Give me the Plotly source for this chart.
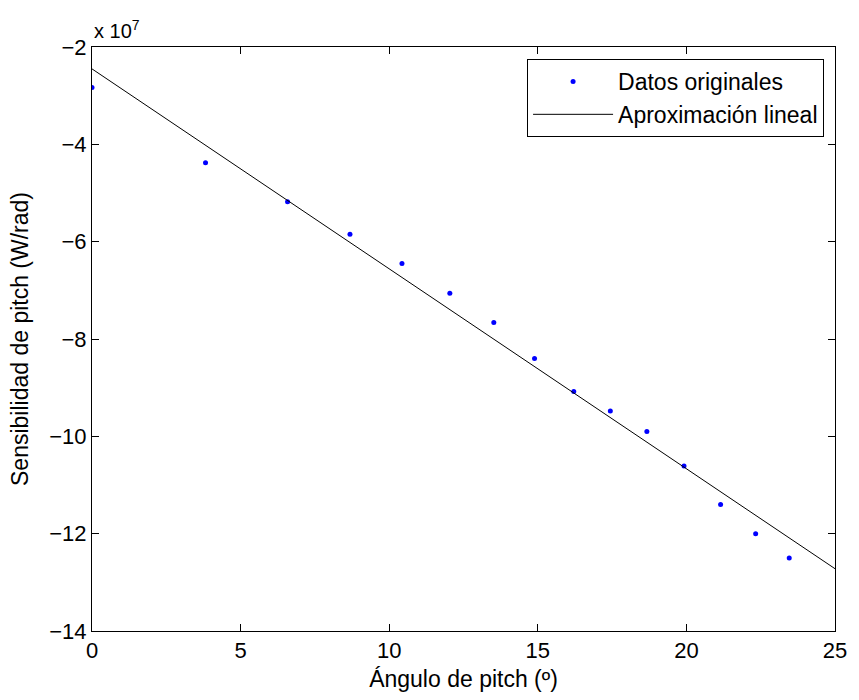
import plotly.graph_objects as go

# Datos (y en unidades de 1e7 W/rad)
angulo = [0.0, 3.82, 6.58, 8.68, 10.43, 12.04, 13.52, 14.89, 16.21, 17.44,
          18.67, 19.92, 21.15, 22.33, 23.46]
sensibilidad = [-2.83, -4.38, -5.18, -5.85, -6.45, -7.06, -7.66, -8.40, -9.08,
                -9.48, -9.90, -10.61, -11.40, -12.00, -12.50]

# Recta de aproximacion (extremos leidos)
ajuste_x = [0, 25]
ajuste_y = [-2.45, -12.72]

x_ticks = [0, 5, 10, 15, 20, 25]
y_ticks = [-2, -4, -6, -8, -10, -12, -14]

FONT = "Liberation Sans, Arial, Helvetica, sans-serif"
FS_TICK = 22
FS_TEXT = 23

fig = go.Figure()
fig.add_trace(go.Scatter(
    x=angulo, y=sensibilidad, mode="markers",
    marker=dict(color="#0000ff", size=5),
    name="Datos originales",
))
fig.add_trace(go.Scatter(
    x=ajuste_x, y=ajuste_y, mode="lines",
    line=dict(color="black", width=1),
    name="Aproximación lineal",
))

axis_common = dict(
    showline=True, linecolor="black", linewidth=1, mirror="ticks",
    ticks="inside", ticklen=7, tickcolor="black",
    showgrid=False, zeroline=False,
    tickfont=dict(size=FS_TICK, color="black"),
)

fig.update_xaxes(range=[0, 25], tickvals=x_ticks,
                 ticktext=[str(v) for v in x_ticks],
                 title=dict(text="Ángulo de pitch (º)", font=dict(size=FS_TEXT, color="black"), standoff=8),
                 **axis_common)
fig.update_yaxes(range=[-14, -2], tickvals=y_ticks,
                 ticktext=["\u2212" + str(abs(v)) for v in y_ticks],
                 title=dict(text="Sensibilidad de pitch (W/rad)", font=dict(size=FS_TEXT, color="black"), standoff=14),
                 **axis_common)

fig.add_annotation(
    text="x 10<sup>7</sup>", xref="paper", yref="paper", x=0, y=1.0,
    xanchor="left", yanchor="bottom", showarrow=False, yshift=3,
    font=dict(size=20, color="black"),
)

fig.update_layout(
    width=859, height=700,
    margin=dict(l=92, r=17, t=47, b=67),
    paper_bgcolor="white", plot_bgcolor="white",
    font=dict(family=FONT, color="black"),
    legend=dict(
        x=0.9853, y=0.9795, xanchor="right", yanchor="top",
        bordercolor="black", borderwidth=1, bgcolor="white",
        font=dict(size=FS_TEXT, color="black"),
        itemwidth=80, tracegroupgap=0,
    ),
)

# quitar el margen por defecto del body para que la figura ocupe la ventana
fig.write_html(
    "out.html",
    config={"displayModeBar": False},
    post_script="document.body.style.margin='0';document.body.style.overflow='hidden';",
)
